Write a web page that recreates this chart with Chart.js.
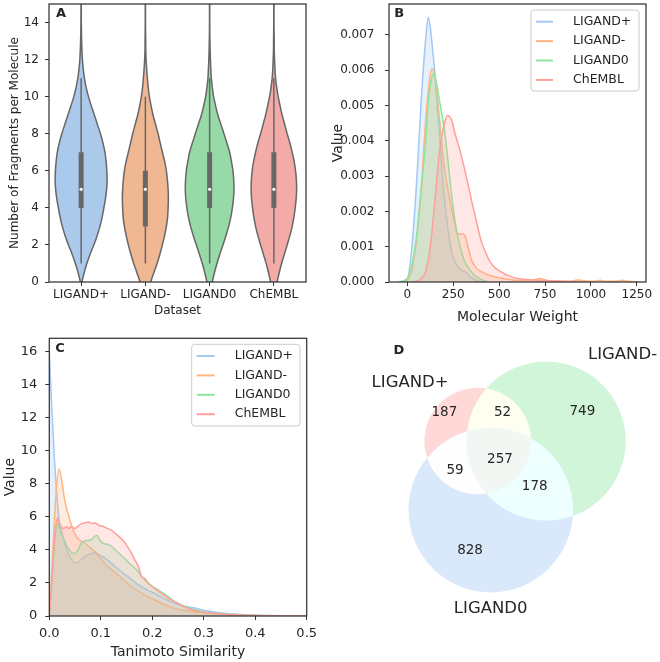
<!DOCTYPE html>
<html>
<head>
<meta charset="utf-8">
<script src="https://cdn.jsdelivr.net/npm/chart.js@4.4.1/dist/chart.umd.min.js"></script>
<style>
  html, body { margin:0; padding:0; background:#ffffff; }
  #fig { position:relative; width:660px; height:662px; overflow:hidden; background:#ffffff; }
  #fig canvas { position:absolute; }
</style>
</head>
<body>
<div id="fig">
  <canvas id="chartA" width="330" height="320" style="left:0px;top:0px;width:330px;height:320px"></canvas>
  <canvas id="chartB" width="330" height="330" style="left:330px;top:0px;width:330px;height:330px"></canvas>
  <canvas id="chartC" width="330" height="342" style="left:0px;top:320px;width:330px;height:342px"></canvas>
  <canvas id="chartD" width="330" height="342" style="left:330px;top:320px;width:330px;height:342px"></canvas>
</div>
<script>
// ======================= DATA =======================
const datasetNames = ['LIGAND+', 'LIGAND-', 'LIGAND0', 'ChEMBL'];

// Panel A – violin half-widths (density, category units) on a shared value grid
const violinGrid = [-1,-0.5,0,0.5,1,1.5,2,2.5,3,3.5,4,4.5,5,5.5,6,6.5,7,7.5,8,8.5,9,9.5,10,10.5,11,11.5,12,12.5,13,13.5,14,15,16];
const violinLigandPlus  = [0,0.005,0.012,0.047,0.089,0.140,0.198,0.249,0.293,0.327,0.354,0.379,0.397,0.405,0.400,0.389,0.371,0.340,0.301,0.254,0.207,0.159,0.114,0.078,0.051,0.033,0.020,0.013,0.008,0.005,0.003,0.002,0.001];
const violinLigandMinus = [0.023,0.047,0.083,0.132,0.182,0.226,0.265,0.299,0.327,0.346,0.354,0.358,0.354,0.343,0.327,0.301,0.265,0.231,0.198,0.159,0.120,0.089,0.062,0.044,0.031,0.020,0.011,0.006,0.005,0.003,0.002,0.002,0.001];
const violinLigand0     = [0.001,0.016,0.042,0.075,0.114,0.159,0.207,0.254,0.296,0.330,0.354,0.371,0.379,0.375,0.363,0.340,0.312,0.269,0.223,0.176,0.129,0.093,0.062,0.042,0.026,0.019,0.012,0.008,0.005,0.003,0.002,0.002,0.001];
const violinChembl      = [0.008,0.026,0.051,0.083,0.120,0.164,0.207,0.249,0.285,0.312,0.332,0.347,0.354,0.350,0.338,0.316,0.285,0.249,0.207,0.168,0.129,0.097,0.067,0.044,0.026,0.017,0.011,0.006,0.005,0.003,0.002,0.002,0.001];
const boxQ1       = [4, 3, 4, 4];
const boxMedian   = [5, 5, 5, 5];
const boxQ3       = [7, 6, 7, 7];
const whiskerLow  = [1, 1, 1, 1];
const whiskerHigh = [11, 10, 11, 11];
const ticksAy = [0, 2, 4, 6, 8, 10, 12, 14];

// Panel B – molecular weight KDE (density values in units of 0.001)
const mwPlusX   = [-50, 0, 25, 50, 75, 100, 114, 125, 138, 150, 160, 175, 187, 200, 224, 250, 275, 296, 310, 325, 350, 375, 400, 450];
const mwPlusY   = [0, 0.1, 1.0, 2.8, 5.1, 6.9, 7.5, 7.2, 6.56, 5.9, 5.14, 4.2, 3.25, 2.5, 1.37, 0.7, 0.45, 0.33, 0.3, 0.25, 0.12, 0.05, 0.01, 0];
const mwMinusX  = [-25, 0, 25, 50, 75, 100, 120, 134, 150, 165, 175, 200, 225, 250, 270, 285, 300, 315, 330, 350, 375, 400, 430, 475, 525, 575, 625, 675, 700, 720, 740, 775, 825, 875, 910, 930, 950, 990, 1030, 1050, 1070, 1110, 1150, 1170, 1190, 1230, 1260];
const mwMinusY  = [0, 0.05, 0.35, 1.2, 2.6, 4.6, 5.7, 6.04, 5.8, 5.14, 4.6, 3.3, 2.5, 1.85, 1.4, 1.35, 1.37, 1.3, 1.0, 0.62, 0.4, 0.3, 0.22, 0.15, 0.1, 0.06, 0.04, 0.05, 0.08, 0.1, 0.07, 0.03, 0.02, 0.02, 0.04, 0.06, 0.04, 0.02, 0.03, 0.05, 0.03, 0.02, 0.03, 0.05, 0.03, 0.01, 0];
const mwZeroX   = [-30, 0, 25, 50, 75, 100, 115, 130, 145, 160, 175, 190, 205, 225, 240, 255, 270, 290, 310, 330, 360, 390, 420, 450];
const mwZeroY   = [0, 0.1, 0.5, 1.3, 2.6, 4.0, 5.14, 5.7, 5.92, 5.6, 5.14, 4.7, 4.2, 3.25, 2.5, 1.9, 1.4, 0.95, 0.61, 0.42, 0.22, 0.1, 0.03, 0];
const mwChemblX = [25, 50, 75, 100, 125, 150, 175, 200, 218, 240, 260, 280, 300, 325, 350, 375, 400, 425, 450, 475, 500, 525, 550, 600, 650, 700, 750, 800, 850, 900, 950];
const mwChemblY = [0, 0.02, 0.1, 0.3, 1.0, 2.3, 3.7, 4.45, 4.72, 4.6, 4.2, 3.85, 3.45, 2.9, 2.3, 1.75, 1.2, 0.85, 0.58, 0.42, 0.32, 0.24, 0.18, 0.1, 0.07, 0.05, 0.04, 0.03, 0.02, 0.01, 0];
const ticksBx = [0, 250, 500, 750, 1000, 1250];
const ticksBy = [0, 0.001, 0.002, 0.003, 0.004, 0.005, 0.006, 0.007];

// Panel C – Tanimoto similarity KDE
const tsPlusX   = [0, 0.005, 0.01, 0.015, 0.02, 0.025, 0.03, 0.037, 0.045, 0.05, 0.057, 0.065, 0.075, 0.089, 0.098, 0.11, 0.121, 0.135, 0.153, 0.165, 0.179, 0.192, 0.205, 0.22, 0.244, 0.26, 0.28, 0.3, 0.33, 0.36, 0.4, 0.45, 0.5];
const tsPlusY   = [16.0, 12.5, 9.5, 7.2, 5.6, 5.0, 4.4, 3.78, 3.35, 3.22, 3.28, 3.5, 3.7, 3.82, 3.68, 3.45, 3.18, 2.8, 2.37, 2.07, 1.77, 1.55, 1.36, 1.1, 0.76, 0.6, 0.5, 0.35, 0.2, 0.12, 0.05, 0.02, 0];
const tsMinusX  = [0, 0.019, 0.024, 0.03, 0.04, 0.053, 0.069, 0.089, 0.108, 0.134, 0.16, 0.186, 0.212, 0.244, 0.27, 0.3, 0.35, 0.4, 0.45, 0.5];
const tsMinusY  = [0, 8.9, 8.2, 7.0, 5.8, 4.78, 4.4, 3.88, 3.18, 2.47, 1.77, 1.26, 0.86, 0.46, 0.3, 0.18, 0.08, 0.03, 0.01, 0];
const tsZeroX   = [0, 0.016, 0.022, 0.03, 0.04, 0.047, 0.055, 0.062, 0.069, 0.08, 0.092, 0.098, 0.104, 0.117, 0.13, 0.143, 0.157, 0.17, 0.186, 0.2, 0.212, 0.23, 0.244, 0.27, 0.3, 0.35, 0.4, 0.45, 0.5];
const tsZeroY   = [0, 5.6, 5.1, 4.5, 3.95, 3.78, 3.95, 4.4, 4.55, 4.6, 4.88, 4.6, 4.4, 4.3, 3.95, 3.58, 3.15, 2.78, 2.17, 1.8, 1.57, 1.2, 0.87, 0.5, 0.25, 0.1, 0.04, 0.01, 0];
const tsChemblX = [0, 0.016, 0.02, 0.027, 0.033, 0.037, 0.043, 0.05, 0.056, 0.063, 0.07, 0.076, 0.082, 0.089, 0.095, 0.104, 0.112, 0.121, 0.13, 0.143, 0.152, 0.16, 0.167, 0.173, 0.179, 0.186, 0.192, 0.205, 0.218, 0.23, 0.244, 0.26, 0.28, 0.3, 0.35, 0.4, 0.45, 0.5];
const tsChemblY = [0, 5.93, 5.6, 5.28, 5.4, 5.3, 5.4, 5.29, 5.45, 5.59, 5.65, 5.69, 5.6, 5.63, 5.5, 5.43, 5.3, 5.18, 4.95, 4.58, 4.2, 3.78, 3.35, 3.0, 2.4, 2.25, 2.0, 1.65, 1.36, 1.1, 0.87, 0.58, 0.35, 0.22, 0.09, 0.03, 0.01, 0];
const ticksCx = [0, 0.1, 0.2, 0.3, 0.4, 0.5];
const ticksCy = [0, 2, 4, 6, 8, 10, 12, 14, 16];

// Panel D – Venn diagram region counts (membership: LIGAND+, LIGAND-, LIGAND0)
const vennSetNames     = ['LIGAND+', 'LIGAND-', 'LIGAND0'];
const vennRegionKeys   = ['100', '010', '110', '001', '101', '011', '111'];
const vennRegionCounts = [187, 749, 52, 828, 59, 178, 257];

// ======================= STYLE / LAYOUT =======================
const TEXT = '#262626';
const FONT = "'DejaVu Sans', sans-serif";
Chart.defaults.font.family = FONT;
Chart.defaults.color = TEXT;
Chart.defaults.animation = false;
Chart.defaults.events = [];
Chart.defaults.plugins.legend.display = false;
Chart.defaults.plugins.tooltip.enabled = false;

const pastel = [[161,201,244],[255,180,130],[141,229,161],[255,159,155]]; // blue, orange, green, red
const rgba = (c, a) => `rgba(${c[0]},${c[1]},${c[2]},${a})`;
function desaturate(c, prop) {
  const r = c[0]/255, g = c[1]/255, b = c[2]/255;
  const mx = Math.max(r,g,b), mn = Math.min(r,g,b), l = (mx+mn)/2;
  let h = 0, s = 0;
  if (mx !== mn) {
    const d = mx - mn;
    s = l > 0.5 ? d/(2-mx-mn) : d/(mx+mn);
    if (mx === r) h = ((g-b)/d + (g<b?6:0)); else if (mx === g) h = (b-r)/d + 2; else h = (r-g)/d + 4;
    h /= 6;
  }
  s *= prop;
  const q = l < 0.5 ? l*(1+s) : l+s-l*s, p = 2*l-q;
  const hue = t => { t = (t+1)%1; if (t<1/6) return p+(q-p)*6*t; if (t<1/2) return q; if (t<2/3) return p+(q-p)*(2/3-t)*6; return p; };
  return [hue(h+1/3), hue(h), hue(h-1/3)].map(v => Math.round(v*255));
}
const violinFill = pastel.map(c => rgba(desaturate(c, 0.75), 1));
const violinGray = '#676767';

function framePlugin() {
  return { id: 'frame', afterDatasetsDraw(chart) {
    const {ctx, chartArea: a} = chart;
    ctx.save(); ctx.strokeStyle = '#333333'; ctx.lineWidth = 1.25;
    ctx.strokeRect(a.left, a.top, a.right - a.left, a.bottom - a.top); ctx.restore();
  }};
}
function letterPlugin(letter, dx, dy) {
  return { id: 'letter', afterDraw(chart) {
    const {ctx, chartArea: a} = chart;
    ctx.save(); ctx.font = `bold 13px ${FONT}`; ctx.fillStyle = TEXT;
    ctx.textAlign = 'center'; ctx.textBaseline = 'middle';
    ctx.fillText(letter, a.left + dx, a.top + dy); ctx.restore();
  }};
}
function legendPlugin(o) {
  return { id: 'customLegend', afterDraw(chart) {
    const {ctx, chartArea: a} = chart;
    const x0 = a.right - o.right - o.width, y0 = a.top + o.top;
    ctx.save();
    ctx.beginPath();
    if (ctx.roundRect) ctx.roundRect(x0, y0, o.width, o.height, 3); else ctx.rect(x0, y0, o.width, o.height);
    ctx.fillStyle = 'rgba(255,255,255,0.8)'; ctx.fill();
    ctx.strokeStyle = '#cccccc'; ctx.lineWidth = 1; ctx.stroke();
    chart.data.datasets.forEach((ds, i) => {
      const y = y0 + o.firstRow + i * o.rowGap;
      ctx.beginPath(); ctx.moveTo(x0 + o.lineX0, y); ctx.lineTo(x0 + o.lineX1, y);
      ctx.strokeStyle = ds.borderColor; ctx.lineWidth = 2; ctx.stroke();
      ctx.fillStyle = TEXT; ctx.font = `${o.fontSize}px ${FONT}`;
      ctx.textAlign = 'left'; ctx.textBaseline = 'middle';
      ctx.fillText(ds.label, x0 + o.textX, y);
    });
    ctx.restore();
  }};
}
function axisOpts(o) {
  return {
    type: 'linear', min: o.min, max: o.max,
    afterBuildTicks: s => { s.ticks = o.ticks.map(v => ({ value: v })); },
    afterFit: s => {
      if (o.isX) { s.height = o.size; s.paddingLeft = 0; s.paddingRight = 0; }
      else { s.width = o.size; s.paddingTop = 0; s.paddingBottom = 0; }
    },
    ticks: { callback: o.fmt, font: { size: o.tickSize }, padding: o.tickPad, color: TEXT, maxRotation: 0, autoSkip: false },
    grid: { display: true, drawOnChartArea: false, drawTicks: true, tickLength: 4, color: '#333333', lineWidth: 1 },
    border: { display: false },
    title: { display: true, text: o.title, color: TEXT, font: { size: o.titleSize, lineHeight: 1.2 }, padding: o.titlePad }
  };
}

// ======================= PANEL A =======================
(function () {
  const dens = [violinLigandPlus, violinLigandMinus, violinLigand0, violinChembl];
  const ds = [];
  dens.forEach((d, i) => {
    const right = violinGrid.map((y, k) => ({ x: i + d[k], y }));
    const left = violinGrid.map((y, k) => ({ x: i - d[k], y })).reverse();
    const pts = right.concat(left); pts.push(right[0]);
    ds.push({ data: pts, borderColor: violinGray, borderWidth: 1.5, backgroundColor: violinFill[i],
              fill: 'shape', pointRadius: 0, tension: 0.3, order: 3 });
    ds.push({ data: [{ x: i, y: whiskerLow[i] }, { x: i, y: whiskerHigh[i] }], borderColor: violinGray,
              borderWidth: 1.5, pointRadius: 0, fill: false, order: 2 });
    ds.push({ data: [{ x: i, y: boxQ1[i] }, { x: i, y: boxQ3[i] }], borderColor: violinGray,
              borderWidth: 5, borderCapStyle: 'butt', pointRadius: 0, fill: false, order: 1 });
    ds.push({ data: [{ x: i, y: boxMedian[i] }], showLine: false, pointRadius: 1.6,
              pointBackgroundColor: '#ffffff', pointBorderWidth: 0, order: 0 });
  });
  new Chart(document.getElementById('chartA'), {
    type: 'line',
    data: { datasets: ds },
    options: {
      responsive: false, devicePixelRatio: 1,
      layout: { padding: { top: 4, right: 24, left: 0, bottom: 0 } },
      scales: {
        x: axisOpts({ isX: true, min: -0.5, max: 3.5, ticks: [0, 1, 2, 3], fmt: v => datasetNames[v],
                      size: 38, tickSize: 12, tickPad: 2, title: 'Dataset', titleSize: 12, titlePad: { top: 0, bottom: 2 } }),
        y: axisOpts({ isX: false, min: 0, max: 15, ticks: ticksAy, fmt: v => String(v),
                      size: 49, tickSize: 12, tickPad: 6, title: 'Number of Fragments per Molecule', titleSize: 12, titlePad: { top: 8, bottom: 0 } })
      }
    },
    plugins: [framePlugin(), letterPlugin('A', 12, 9.3)]
  });
})();

// ======================= PANEL B =======================
(function () {
  const xs = [mwPlusX, mwMinusX, mwZeroX, mwChemblX];
  const ys = [mwPlusY, mwMinusY, mwZeroY, mwChemblY];
  const ds = xs.map((x, i) => ({
    label: datasetNames[i],
    data: x.map((v, k) => ({ x: v, y: ys[i][k] / 1000 })),
    borderColor: rgba(pastel[i], 1), backgroundColor: rgba(pastel[i], 0.25),
    borderWidth: 1.5, fill: 'origin', pointRadius: 0, cubicInterpolationMode: 'monotone', order: 4 - i
  }));
  new Chart(document.getElementById('chartB'), {
    type: 'line',
    data: { datasets: ds },
    options: {
      responsive: false, devicePixelRatio: 1,
      layout: { padding: { top: 4, right: 14, left: 0, bottom: 0 } },
      scales: {
        x: axisOpts({ isX: true, min: -100, max: 1300, ticks: ticksBx, fmt: v => String(v),
                      size: 48, tickSize: 12, tickPad: 2, title: 'Molecular Weight', titleSize: 14, titlePad: { top: 0, bottom: 4.6 } }),
        y: axisOpts({ isX: false, min: 0, max: 0.007875, ticks: ticksBy, fmt: v => v.toFixed(3),
                      size: 59, tickSize: 12, tickPad: 10.5, title: 'Value', titleSize: 14, titlePad: { top: 0, bottom: 0 } })
      }
    },
    plugins: [framePlugin(), letterPlugin('B', 10.3, 9.3),
      legendPlugin({ width: 108, height: 81, right: 7, top: 6, firstRow: 11.7, rowGap: 19.4, lineX0: 5, lineX1: 22, textX: 42, fontSize: 12.5 })]
  });
})();

// ======================= PANEL C =======================
(function () {
  const xs = [tsPlusX, tsMinusX, tsZeroX, tsChemblX];
  const ys = [tsPlusY, tsMinusY, tsZeroY, tsChemblY];
  const ds = xs.map((x, i) => ({
    label: datasetNames[i],
    data: x.map((v, k) => ({ x: v, y: ys[i][k] })),
    borderColor: rgba(pastel[i], 1), backgroundColor: rgba(pastel[i], 0.25),
    borderWidth: 1.5, fill: 'origin', pointRadius: 0, cubicInterpolationMode: 'monotone', order: 4 - i
  }));
  new Chart(document.getElementById('chartC'), {
    type: 'line',
    data: { datasets: ds },
    options: {
      responsive: false, devicePixelRatio: 1,
      layout: { padding: { top: 18.3, right: 23.3, left: 0, bottom: 0 } },
      scales: {
        x: axisOpts({ isX: true, min: 0, max: 0.5, ticks: ticksCx, fmt: v => v.toFixed(1),
                      size: 46, tickSize: 13, tickPad: 6, title: 'Tanimoto Similarity', titleSize: 14, titlePad: { top: 0, bottom: 1.6 } }),
        y: axisOpts({ isX: false, min: 0, max: 16.8, ticks: ticksCy, fmt: v => String(v),
                      size: 49.3, tickSize: 13, tickPad: 8, title: 'Value', titleSize: 14, titlePad: { top: 1.6, bottom: 0 } })
      }
    },
    plugins: [framePlugin(), letterPlugin('C', 10.7, 10),
      legendPlugin({ width: 108.3, height: 81.7, right: 6.7, top: 6, firstRow: 11.7, rowGap: 19.4, lineX0: 5, lineX1: 23, textX: 43, fontSize: 12.5 })]
  });
})();

// ======================= PANEL D (Venn) =======================
(function () {
  const count = key => vennRegionCounts[vennRegionKeys.indexOf(key)];
  const setTotal = s => vennRegionKeys.reduce((t, k, i) => t + (k[s] === '1' ? vennRegionCounts[i] : 0), 0);
  const pairTotal = (a, b) => vennRegionKeys.reduce((t, k, i) => t + (k[a] === '1' && k[b] === '1' ? vennRegionCounts[i] : 0), 0);
  // circle areas proportional to set sizes
  const radii = [0, 1, 2].map(s => Math.sqrt(setTotal(s) / Math.PI));
  const lens = (r1, r2, d) => {
    if (d >= r1 + r2) return 0;
    if (d <= Math.abs(r1 - r2)) return Math.PI * Math.min(r1, r2) ** 2;
    const a1 = r1 * r1 * Math.acos((d * d + r1 * r1 - r2 * r2) / (2 * d * r1));
    const a2 = r2 * r2 * Math.acos((d * d + r2 * r2 - r1 * r1) / (2 * d * r2));
    const t = 0.5 * Math.sqrt((-d + r1 + r2) * (d + r1 - r2) * (d - r1 + r2) * (d + r1 + r2));
    return a1 + a2 - t;
  };
  const solveDist = (a, b) => {
    const r1 = radii[a], r2 = radii[b], target = pairTotal(a, b);
    let lo = Math.abs(r1 - r2), hi = r1 + r2;
    for (let i = 0; i < 80; i++) { const m = (lo + hi) / 2; if (lens(r1, r2, m) > target) lo = m; else hi = m; }
    return (lo + hi) / 2;
  };
  const dAB = solveDist(0, 1), dAC = solveDist(0, 2), dBC = solveDist(1, 2);
  const cx = (dAC * dAC - dBC * dBC + dAB * dAB) / (2 * dAB);
  const centers = [[0, 0], [dAB, 0], [cx, Math.sqrt(Math.max(0, dAC * dAC - cx * cx))]];

  // layout: placement of the venn coordinate system inside the panel
  const PX_PER_UNIT = 4.012, ORIGIN_PX = { x: 147.7, y: 121 }, W = 330, H = 342;
  const xMin = -ORIGIN_PX.x / PX_PER_UNIT, xMax = xMin + W / PX_PER_UNIT;
  const yMin = -ORIGIN_PX.y / PX_PER_UNIT, yMax = yMin + H / PX_PER_UNIT;
  const regionLabelPos = { '100': [-8.3, -7.15], '010': [26.1, -7.3], '110': [6.2, -7.15], '001': [-1.9, 27.4],
                           '101': [-5.66, 7.4], '011': [14.2, 11.4], '111': [5.56, 4.56] };
  const setLabelPos = [[-16.85, -14.65], [36.1, -21.5], [3.24, 41.9]];

  // matplotlib-venn style colour mixing
  const base = [pastel[3], pastel[2], pastel[0]].map(c => c.map(v => v / 255)); // red, green, blue
  const ALPHA = 0.4;
  const overWhite = c => `rgb(${c.map(v => Math.round(255 * (1 - ALPHA) + 255 * v * ALPHA)).join(',')})`;
  const mix = idx => { const f = idx.length === 2 ? 0.7 : 0.4; return [0, 1, 2].map(k => Math.min(1, f * idx.reduce((s, i) => s + base[i][k], 0))); };
  const regionColor = { '110': overWhite(mix([0, 1])), '101': overWhite(mix([0, 2])), '011': overWhite(mix([1, 2])), '111': overWhite(mix([0, 1, 2])) };

  const pxPerUnit = chart => (chart.width || W) / (xMax - xMin);
  const vennPlugin = { id: 'venn', afterDatasetsDraw(chart) {
    const ctx = chart.ctx, meta = chart.getDatasetMeta(0);
    const circ = meta.data.map(el => ({ x: el.x, y: el.y, r: el.options.radius }));
    const path = c => { const p = new Path2D(); p.arc(c.x, c.y, c.r, 0, Math.PI * 2); return p; };
    [[0, 1, '110'], [0, 2, '101'], [1, 2, '011']].forEach(([a, b, key]) => {
      ctx.save(); ctx.clip(path(circ[a])); ctx.fillStyle = regionColor[key]; ctx.fill(path(circ[b])); ctx.restore();
    });
    ctx.save(); ctx.clip(path(circ[0])); ctx.clip(path(circ[1])); ctx.fillStyle = regionColor['111']; ctx.fill(path(circ[2])); ctx.restore();
    const sx = chart.scales.x, sy = chart.scales.y;
    ctx.save(); ctx.fillStyle = TEXT; ctx.textAlign = 'center'; ctx.textBaseline = 'middle';
    ctx.font = `13.5px ${FONT}`;
    vennRegionKeys.forEach(k => { const p = regionLabelPos[k]; ctx.fillText(String(count(k)), sx.getPixelForValue(p[0]), sy.getPixelForValue(p[1])); });
    ctx.font = `16.5px ${FONT}`;
    vennSetNames.forEach((n, i) => { const p = setLabelPos[i]; ctx.fillText(n, sx.getPixelForValue(p[0]), sy.getPixelForValue(p[1])); });
    ctx.font = `bold 13px ${FONT}`; ctx.fillText('D', 69, 31);
    ctx.restore();
  }};

  new Chart(document.getElementById('chartD'), {
    type: 'bubble',
    data: { datasets: [{
      data: centers.map(c => ({ x: c[0], y: c[1] })),
      backgroundColor: base.map(c => overWhite(c)),
      borderWidth: 0,
      clip: false,
      radius: ctx => radii[ctx.dataIndex] * pxPerUnit(ctx.chart)
    }] },
    options: {
      responsive: false, devicePixelRatio: 1,
      layout: { padding: 0, autoPadding: false },
      scales: {
        x: { type: 'linear', display: false, min: xMin, max: xMax },
        y: { type: 'linear', display: false, min: yMin, max: yMax, reverse: true }
      }
    },
    plugins: [vennPlugin]
  });
})();
</script>
</body>
</html>
